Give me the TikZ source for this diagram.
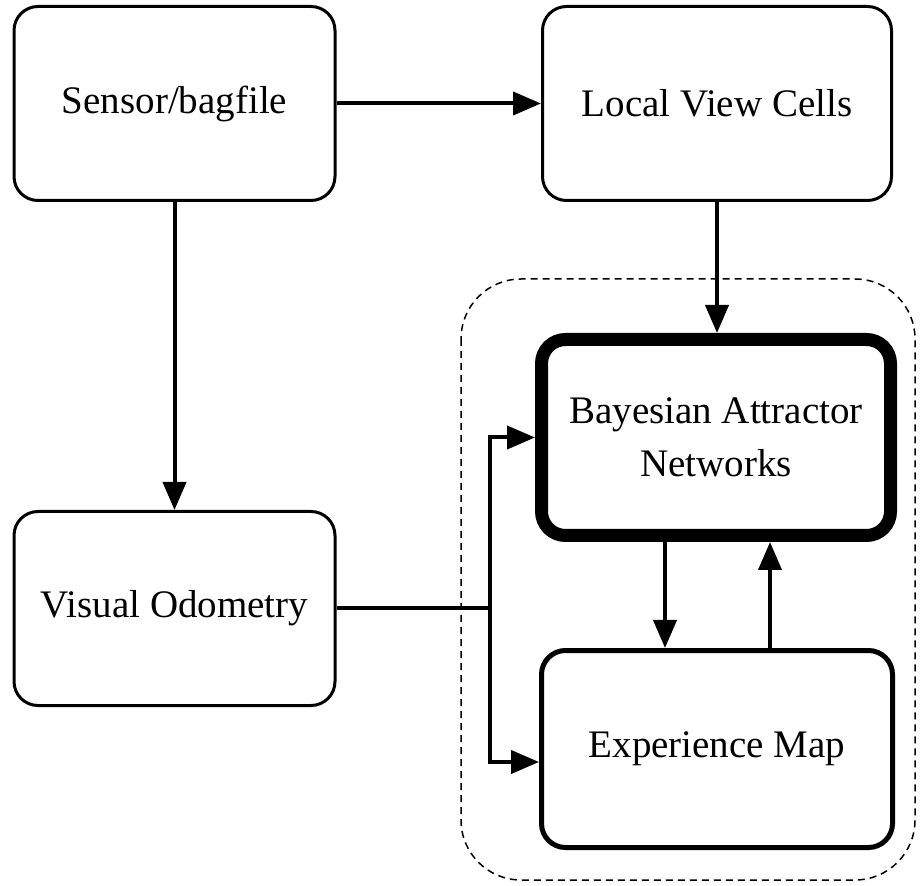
\documentclass[tikz,border=0pt]{standalone}
\usepackage{fontspec}
\setmainfont{Liberation Serif}
\usepackage{tikz}
\usetikzlibrary{arrows.meta}
\tikzset{
    block/.style={rectangle, rounded corners=12pt, draw, line width=1.5pt,
    	minimum height=97pt, align=center,
    	font=\fontsize{19.5}{26.5}\selectfont}
}
\tikzset{
    core/.style={block, line width=6.5pt, minimum height=98pt},
    mapblock/.style={block, line width=2.5pt, minimum height=98.5pt}
}
\tikzset{
    link/.style={line width=2pt},
    flow/.style={link, -{Triangle[length=14pt, width=11.5pt]}},
    group/.style={draw, line width=0.75pt, dash pattern=on 3.5pt off 2.5pt,
    	rounded corners=30pt}
}

\begin{document}
\begin{tikzpicture}[x=0.5pt, y=-0.5pt]
	\useasboundingbox (0,0) rectangle (920,886);
	\draw[group] (461,279) rectangle (915,880);

	\node[block, minimum width=160.5pt] (sensor) at (174.5,103.5) {Sensor/bagfile};
	\node[block, minimum width=174.5pt] (lvc) at (717,103.5) {Local View Cells};
	\node[block, minimum width=160.5pt] (vo) at (174.5,608.5) {Visual Odometry};
	\node[core, minimum width=174.5pt] (ban) at (716,437.5) {Bayesian Attractor\\Networks};
	\node[mapblock, minimum width=175.5pt] (map) at (717,749) {Experience Map};

	\coordinate (split) at (490,608.5);

	\draw[flow] (sensor) -- (lvc); \draw[flow] (sensor) -- (vo);
	\draw[flow] (lvc.south) -- (lvc.south |- ban.north);
	\draw[flow] ([xshift=-25.5pt]ban.south) -- ([xshift=-25.5pt]ban.south |- map.north);
	\draw[flow] ([xshift=26.5pt]map.north) -- ([xshift=26.5pt]map.north |- ban.south);
	\draw[link] (vo.east) -- (split);
	\draw[flow] (split) |- (ban.west);
	\draw[flow] (split) |- ([yshift=-6.5pt]map.west);
\end{tikzpicture}
\end{document}
